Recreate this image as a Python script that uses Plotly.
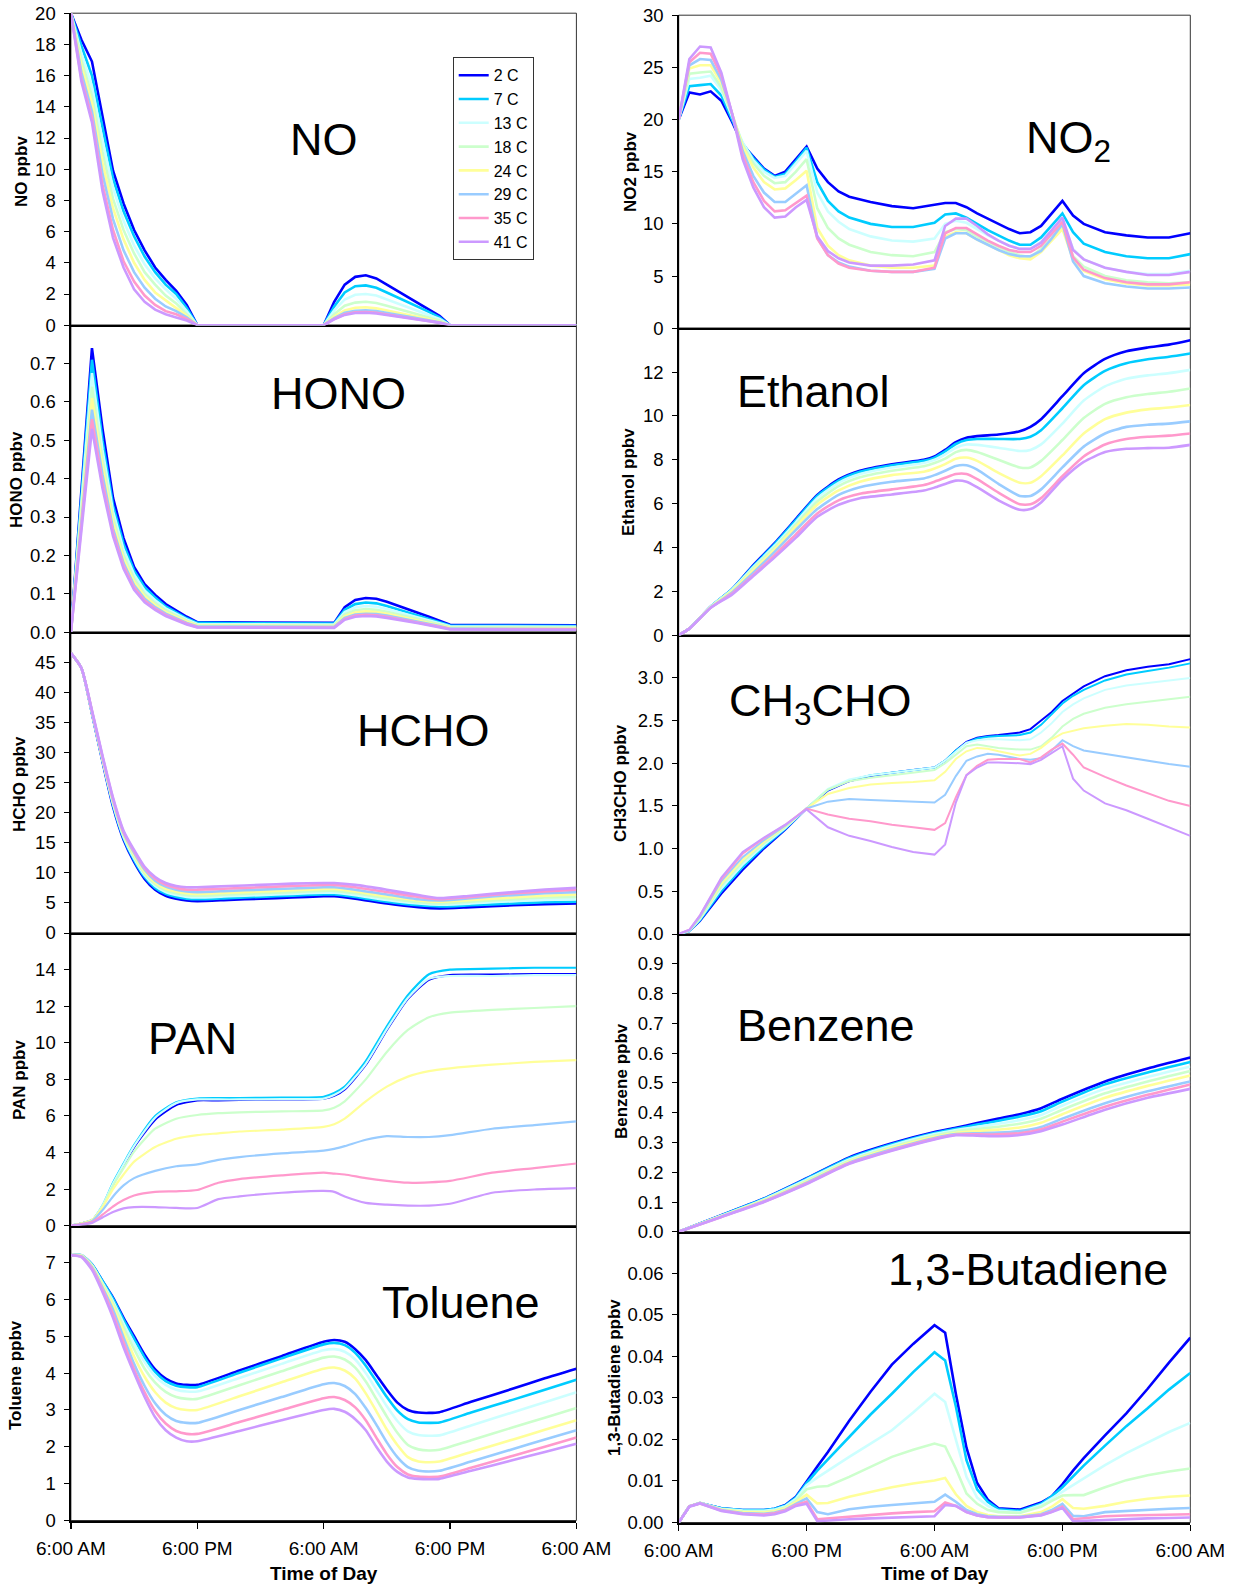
import plotly.graph_objects as go

# ---------------- common ----------------
LABELS = ["2 C", "7 C", "13 C", "18 C", "24 C", "29 C", "35 C", "41 C"]
COLORS = ["#0000FF", "#00CCFF", "#CCFFFF", "#CCFFCC", "#FFFF99", "#99CCFF", "#FF99CC", "#CC99FF"]
TIME_TICKS = [0, 12, 24, 36, 48]
TIME_TEXT = ["6:00 AM", "6:00 PM", "6:00 AM", "6:00 PM", "6:00 AM"]

# ---------------- NO ----------------
T_NO = [0, 1, 2, 3, 4, 5, 6, 7, 8, 9, 10, 11, 12, 24, 25, 26, 27, 28, 29, 30, 31, 32, 33, 34, 35, 36, 48]
NO_SERIES = [
    [20, 18.3, 16.9, 13.3, 9.9, 7.8, 6.1, 4.8, 3.7, 2.9, 2.2, 1.3, 0, 0, 1.5, 2.6, 3.1, 3.2, 3.0, 2.6, 2.2, 1.8, 1.4, 1.05, 0.6, 0, 0],
    [20, 17.9, 16.0, 12.6, 9.4, 7.3, 5.7, 4.4, 3.4, 2.6, 2.0, 1.1, 0, 0, 1.2, 2.1, 2.5, 2.55, 2.4, 2.1, 1.8, 1.45, 1.15, 0.85, 0.5, 0, 0],
    [20, 17.4, 15.3, 11.8, 8.8, 6.7, 5.1, 3.9, 3.0, 2.3, 1.7, 0.9, 0, 0, 0.95, 1.65, 1.95, 2.0, 1.9, 1.65, 1.4, 1.15, 0.9, 0.65, 0.4, 0, 0],
    [20, 17.0, 14.7, 11.1, 8.1, 6.1, 4.6, 3.4, 2.6, 1.9, 1.4, 0.7, 0, 0, 0.7, 1.25, 1.45, 1.5, 1.42, 1.25, 1.05, 0.85, 0.68, 0.5, 0.3, 0, 0],
    [20, 16.6, 14.2, 10.4, 7.5, 5.5, 4.0, 2.9, 2.1, 1.6, 1.1, 0.6, 0, 0, 0.55, 0.95, 1.12, 1.15, 1.08, 0.95, 0.8, 0.65, 0.52, 0.38, 0.22, 0, 0],
    [20, 16.2, 13.7, 9.7, 6.8, 4.8, 3.4, 2.4, 1.7, 1.2, 0.9, 0.5, 0, 0, 0.45, 0.8, 0.93, 0.95, 0.9, 0.8, 0.67, 0.55, 0.43, 0.32, 0.18, 0, 0],
    [20, 15.8, 13.3, 9.0, 6.1, 4.1, 2.8, 1.9, 1.3, 0.9, 0.7, 0.4, 0, 0, 0.4, 0.7, 0.83, 0.85, 0.8, 0.7, 0.6, 0.48, 0.38, 0.28, 0.16, 0, 0],
    [20, 15.6, 13.0, 8.6, 5.6, 3.7, 2.3, 1.5, 1.0, 0.7, 0.5, 0.3, 0, 0, 0.38, 0.66, 0.78, 0.8, 0.75, 0.66, 0.56, 0.45, 0.36, 0.26, 0.15, 0, 0],
]

# ---------------- HONO ----------------
T_HONO = [0, 2, 3, 4, 5, 6, 7, 8, 9, 10, 11, 12, 25, 26, 27, 28, 29, 30, 31, 32, 33, 34, 35, 36, 48]
HONO_SERIES = [
    [0.0, 0.74, 0.53, 0.35, 0.245, 0.17, 0.125, 0.097, 0.073, 0.056, 0.04, 0.026, 0.024, 0.065, 0.084, 0.089, 0.087, 0.079, 0.07, 0.06, 0.05, 0.04, 0.03, 0.019, 0.018],
    [0.0, 0.71, 0.50, 0.33, 0.23, 0.16, 0.117, 0.09, 0.067, 0.051, 0.036, 0.024, 0.022, 0.058, 0.073, 0.077, 0.075, 0.068, 0.06, 0.052, 0.043, 0.035, 0.026, 0.017, 0.016],
    [0.0, 0.675, 0.475, 0.315, 0.215, 0.15, 0.108, 0.083, 0.062, 0.047, 0.033, 0.021, 0.02, 0.052, 0.064, 0.068, 0.066, 0.06, 0.053, 0.046, 0.038, 0.031, 0.023, 0.015, 0.014],
    [0.0, 0.64, 0.45, 0.30, 0.20, 0.14, 0.1, 0.076, 0.057, 0.043, 0.03, 0.019, 0.018, 0.046, 0.057, 0.06, 0.058, 0.053, 0.047, 0.04, 0.034, 0.027, 0.02, 0.013, 0.012],
    [0.0, 0.61, 0.43, 0.285, 0.19, 0.13, 0.093, 0.07, 0.052, 0.039, 0.027, 0.017, 0.016, 0.041, 0.051, 0.054, 0.052, 0.048, 0.042, 0.036, 0.03, 0.024, 0.018, 0.011, 0.01],
    [0.0, 0.58, 0.41, 0.27, 0.18, 0.122, 0.087, 0.065, 0.048, 0.036, 0.024, 0.015, 0.014, 0.037, 0.046, 0.048, 0.047, 0.043, 0.038, 0.032, 0.027, 0.021, 0.016, 0.009, 0.008],
    [0.0, 0.555, 0.39, 0.26, 0.172, 0.116, 0.082, 0.061, 0.045, 0.033, 0.022, 0.013, 0.012, 0.034, 0.043, 0.045, 0.044, 0.04, 0.035, 0.03, 0.025, 0.02, 0.014, 0.008, 0.007],
    [0.0, 0.53, 0.375, 0.25, 0.165, 0.11, 0.078, 0.058, 0.042, 0.031, 0.02, 0.012, 0.011, 0.032, 0.04, 0.042, 0.041, 0.037, 0.033, 0.028, 0.023, 0.018, 0.013, 0.007, 0.006],
]

# ---------------- HCHO ----------------
T_HCHO = [0, 1, 2, 3, 4, 5, 6, 7, 8, 9, 10, 11, 12, 15, 18, 21, 24, 25, 27, 30, 33, 35, 38, 42, 45, 48]
HCHO_SERIES = [
    [46.5, 44, 36.5, 28.5, 21.0, 15.5, 11.8, 9.0, 7.2, 6.2, 5.7, 5.4, 5.3, 5.5, 5.7, 5.9, 6.1, 6.1, 5.7, 4.9, 4.3, 4.1, 4.3, 4.6, 4.8, 4.9],
    [46.5, 44, 36.6, 28.7, 21.3, 15.8, 12.1, 9.3, 7.5, 6.5, 6.0, 5.7, 5.6, 5.8, 6.0, 6.2, 6.4, 6.4, 6.0, 5.2, 4.6, 4.4, 4.6, 4.9, 5.1, 5.2],
    [46.5, 44, 36.7, 28.8, 21.5, 16.0, 12.4, 9.6, 7.8, 6.8, 6.3, 6.0, 5.9, 6.1, 6.3, 6.5, 6.7, 6.7, 6.3, 5.5, 4.9, 4.7, 4.9, 5.3, 5.5, 5.6],
    [46.5, 44, 36.7, 28.9, 21.7, 16.2, 12.7, 9.9, 8.1, 7.1, 6.6, 6.3, 6.2, 6.4, 6.6, 6.8, 7.0, 7.0, 6.6, 5.8, 5.1, 4.9, 5.2, 5.6, 5.9, 6.0],
    [46.5, 44, 36.8, 29.0, 21.9, 16.4, 13.0, 10.2, 8.4, 7.4, 6.9, 6.6, 6.5, 6.7, 6.9, 7.1, 7.3, 7.3, 6.9, 6.1, 5.4, 5.2, 5.5, 5.9, 6.2, 6.4],
    [46.5, 44, 36.8, 29.2, 22.1, 16.6, 13.3, 10.5, 8.7, 7.7, 7.2, 6.9, 6.8, 7.0, 7.2, 7.4, 7.6, 7.6, 7.2, 6.4, 5.6, 5.4, 5.8, 6.3, 6.6, 6.8],
    [46.5, 44, 36.9, 29.3, 22.3, 16.8, 13.6, 10.8, 9.0, 8.0, 7.5, 7.2, 7.2, 7.4, 7.6, 7.8, 8.0, 8.0, 7.6, 6.8, 6.0, 5.6, 6.0, 6.6, 6.9, 7.2],
    [46.5, 44, 37.0, 29.5, 22.5, 17.0, 13.8, 11.0, 9.3, 8.3, 7.8, 7.6, 7.6, 7.8, 8.0, 8.2, 8.3, 8.3, 8.0, 7.2, 6.3, 5.8, 6.2, 6.8, 7.2, 7.5],
]

# ---------------- PAN ----------------
T_PAN = [0, 2, 3, 4, 5, 6, 8, 10, 12, 14, 16, 20, 24, 25, 26, 28, 30, 32, 34, 36, 40, 44, 48]
PAN_SERIES = [
    [0, 0.3, 1.05, 2.25, 3.3, 4.3, 5.8, 6.6, 6.85, 6.85, 6.88, 6.9, 6.95, 7.1, 7.45, 8.8, 10.7, 12.4, 13.45, 13.7, 13.72, 13.75, 13.75],
    [0, 0.3, 1.1, 2.35, 3.4, 4.4, 6.0, 6.75, 6.95, 6.97, 6.98, 7.0, 7.05, 7.25, 7.6, 9.0, 10.9, 12.6, 13.75, 14.0, 14.05, 14.1, 14.1],
    [0, 0.3, 1.1, 2.3, 3.35, 4.35, 5.9, 6.7, 6.9, 6.9, 6.9, 6.92, 6.95, 7.15, 7.5, 8.85, 10.75, 12.45, 13.5, 13.65, 13.65, 13.7, 13.7],
    [0, 0.3, 1.05, 2.2, 3.15, 4.05, 5.3, 5.85, 6.05, 6.15, 6.2, 6.25, 6.3, 6.45, 6.8, 8.0, 9.5, 10.7, 11.4, 11.65, 11.8, 11.9, 12.0],
    [0, 0.3, 1.0, 2.0, 2.8, 3.5, 4.3, 4.75, 4.95, 5.05, 5.15, 5.25, 5.4, 5.55, 5.85, 6.8, 7.6, 8.15, 8.45, 8.6, 8.8, 8.95, 9.05],
    [0, 0.25, 0.85, 1.6, 2.2, 2.6, 3.0, 3.25, 3.35, 3.6, 3.75, 3.95, 4.1, 4.2, 4.35, 4.7, 4.9, 4.85, 4.85, 4.95, 5.3, 5.5, 5.7],
    [0, 0.2, 0.6, 1.05, 1.4, 1.65, 1.85, 1.88, 1.95, 2.35, 2.55, 2.75, 2.9, 2.85, 2.8, 2.6, 2.45, 2.35, 2.37, 2.45, 2.9, 3.15, 3.4],
    [0, 0.15, 0.45, 0.75, 0.95, 1.02, 1.02, 0.97, 0.97, 1.45, 1.6, 1.8, 1.9, 1.85, 1.6, 1.25, 1.15, 1.1, 1.1, 1.2, 1.8, 1.98, 2.05],
]

# ---------------- Toluene ----------------
T_TOL = [0, 1, 2, 3, 4, 5, 6, 7, 8, 9, 10, 11, 12, 16, 20, 24, 25, 26, 27, 28, 29, 30, 31, 32, 33, 34, 35, 38, 42, 45, 48]
TOL_SERIES = [
    [7.2, 7.2, 6.95, 6.5, 6.05, 5.5, 5.0, 4.5, 4.1, 3.85, 3.72, 3.68, 3.68, 4.07, 4.46, 4.85, 4.9, 4.85, 4.65, 4.35, 3.95, 3.55, 3.2, 3.0, 2.93, 2.92, 2.94, 3.22, 3.58, 3.86, 4.12],
    [7.2, 7.2, 6.95, 6.5, 6.02, 5.45, 4.93, 4.42, 4.03, 3.78, 3.66, 3.62, 3.62, 4.01, 4.4, 4.78, 4.82, 4.76, 4.55, 4.2, 3.78, 3.35, 2.98, 2.75, 2.66, 2.65, 2.66, 2.93, 3.28, 3.55, 3.82],
    [7.2, 7.2, 6.93, 6.45, 5.95, 5.35, 4.8, 4.3, 3.92, 3.68, 3.55, 3.5, 3.5, 3.87, 4.25, 4.62, 4.65, 4.58, 4.37, 4.0, 3.55, 3.1, 2.7, 2.42, 2.32, 2.3, 2.31, 2.58, 2.94, 3.21, 3.48],
    [7.2, 7.2, 6.92, 6.42, 5.9, 5.25, 4.65, 4.12, 3.74, 3.49, 3.35, 3.3, 3.3, 3.67, 4.05, 4.42, 4.45, 4.37, 4.15, 3.77, 3.3, 2.82, 2.38, 2.05, 1.93, 1.9, 1.92, 2.18, 2.53, 2.79, 3.05],
    [7.2, 7.18, 6.9, 6.38, 5.82, 5.12, 4.45, 3.9, 3.48, 3.2, 3.05, 3.0, 3.0, 3.37, 3.75, 4.12, 4.15, 4.07, 3.85, 3.45, 2.97, 2.47, 2.05, 1.72, 1.6, 1.58, 1.6, 1.86, 2.2, 2.46, 2.72],
    [7.2, 7.17, 6.87, 6.32, 5.72, 4.97, 4.25, 3.65, 3.18, 2.87, 2.7, 2.65, 2.65, 3.0, 3.35, 3.7, 3.73, 3.65, 3.43, 3.05, 2.6, 2.12, 1.72, 1.45, 1.35, 1.33, 1.35, 1.6, 1.94, 2.2, 2.45],
    [7.2, 7.16, 6.84, 6.26, 5.6, 4.83, 4.1, 3.48, 2.97, 2.63, 2.43, 2.35, 2.35, 2.67, 3.0, 3.32, 3.35, 3.27, 3.07, 2.72, 2.25, 1.8, 1.45, 1.25, 1.19, 1.18, 1.19, 1.43, 1.76, 2.0, 2.25],
    [7.2, 7.15, 6.8, 6.2, 5.5, 4.7, 4.0, 3.35, 2.8, 2.45, 2.25, 2.15, 2.15, 2.43, 2.72, 3.0, 3.03, 2.95, 2.75, 2.45, 2.0, 1.6, 1.32, 1.17, 1.13, 1.12, 1.13, 1.35, 1.64, 1.86, 2.08],
]

# ---------------- NO2 ----------------
T_NO2 = [0, 1, 2, 3, 4, 5, 6, 7, 8, 9, 10, 11, 12, 13, 14, 15, 16, 18, 20, 22, 24, 25, 26, 27, 28, 29, 30, 31, 32, 33, 34, 35, 36, 37, 38, 40, 42, 44, 46, 48]
NO2_SERIES = [
    [20, 22.6, 22.4, 22.7, 21.8, 19.8, 17.6, 16.4, 15.3, 14.6, 15.0, 16.2, 17.4, 15.3, 14.0, 13.1, 12.6, 12.1, 11.7, 11.5, 11.8, 12.0, 12.0, 11.6, 11.0, 10.5, 10.0, 9.5, 9.1, 9.2, 9.8, 11.0, 12.2, 10.8, 10.0, 9.2, 8.9, 8.7, 8.7, 9.1],
    [20, 23.2, 23.3, 23.4, 22.3, 20.0, 17.7, 16.3, 15.2, 14.5, 14.8, 16.0, 17.3, 14.0, 12.2, 11.2, 10.6, 10.0, 9.7, 9.7, 10.1, 10.9, 11.0, 10.6, 10.0, 9.4, 8.9, 8.4, 8.0, 8.0, 8.7, 9.8, 11.0, 9.2, 8.1, 7.3, 6.9, 6.7, 6.7, 7.1],
    [20, 23.9, 24.0, 24.2, 22.8, 20.3, 17.8, 16.1, 15.0, 14.4, 14.6, 15.8, 17.0, 13.0, 11.2, 10.2, 9.5, 8.8, 8.4, 8.3, 8.6, 10.0, 10.3, 10.1, 9.5, 8.9, 8.4, 7.9, 7.6, 7.6, 8.3, 9.3, 10.4, 7.6, 6.6, 5.8, 5.4, 5.2, 5.2, 5.5],
    [20, 24.4, 24.5, 24.6, 23.1, 20.5, 17.6, 15.8, 14.6, 13.9, 14.0, 15.0, 16.2, 11.5, 9.6, 8.6, 8.0, 7.3, 7.0, 6.9, 7.3, 9.2, 9.5, 9.4, 8.8, 8.3, 7.8, 7.3, 7.0, 6.8, 7.6, 8.6, 9.7, 6.9, 5.9, 5.0, 4.6, 4.4, 4.3, 4.4],
    [20, 24.9, 25.2, 25.2, 23.5, 20.6, 17.4, 15.4, 14.0, 13.3, 13.4, 14.2, 15.1, 9.6, 7.9, 7.0, 6.5, 6.0, 5.8, 5.8, 6.0, 8.8, 9.2, 9.1, 8.5, 8.0, 7.5, 7.0, 6.7, 6.6, 7.3, 8.4, 9.5, 6.6, 5.5, 4.7, 4.3, 4.1, 4.1, 4.2],
    [20, 25.2, 25.8, 25.7, 23.8, 20.6, 17.0, 14.6, 13.0, 12.1, 12.1, 12.9, 13.7, 8.7, 7.0, 6.3, 5.9, 5.5, 5.4, 5.4, 5.7, 8.6, 9.1, 9.1, 8.5, 8.0, 7.5, 7.1, 6.9, 6.9, 7.4, 8.6, 10.0, 6.4, 5.0, 4.3, 4.0, 3.8, 3.8, 3.9],
    [20, 25.5, 26.4, 26.3, 24.2, 20.6, 16.6, 14.0, 12.2, 11.2, 11.3, 12.0, 12.7, 8.6, 7.0, 6.2, 5.8, 5.5, 5.4, 5.4, 5.8, 9.1, 9.6, 9.6, 9.0, 8.4, 7.9, 7.5, 7.3, 7.3, 7.9, 9.0, 10.2, 6.8, 5.6, 4.8, 4.4, 4.2, 4.2, 4.4],
    [20, 25.8, 27.0, 26.9, 24.5, 20.6, 16.2, 13.5, 11.6, 10.6, 10.7, 11.6, 12.3, 8.8, 7.4, 6.7, 6.3, 6.0, 6.0, 6.1, 6.5, 9.8, 10.5, 10.5, 9.8, 9.0, 8.4, 7.9, 7.6, 7.6, 8.2, 9.4, 10.6, 7.5, 6.6, 5.8, 5.4, 5.1, 5.1, 5.4],
]

# ---------------- Ethanol ----------------
T_ETH = [0, 1, 3, 5, 7, 9, 11, 13, 15, 17, 20, 23, 24, 25, 26, 27, 28, 30, 32, 33, 34, 36, 38, 40, 42, 44, 46, 48]
ETH_SERIES = [
    [0, 0.3, 1.3, 2.1, 3.2, 4.2, 5.3, 6.4, 7.1, 7.5, 7.8, 8.0, 8.15, 8.45, 8.8, 9.0, 9.08, 9.15, 9.3, 9.5, 9.85, 10.9, 11.95, 12.6, 12.95, 13.12, 13.25, 13.45],
    [0, 0.3, 1.3, 2.1, 3.15, 4.15, 5.25, 6.35, 7.05, 7.45, 7.75, 7.95, 8.1, 8.38, 8.72, 8.9, 8.95, 8.95, 8.95, 9.05, 9.35, 10.35, 11.4, 12.05, 12.4, 12.58, 12.7, 12.85],
    [0, 0.3, 1.3, 2.08, 3.1, 4.08, 5.15, 6.25, 6.95, 7.35, 7.65, 7.85, 8.0, 8.25, 8.55, 8.7, 8.68, 8.55, 8.4, 8.45, 8.7, 9.65, 10.7, 11.35, 11.7, 11.85, 11.95, 12.1],
    [0, 0.3, 1.28, 2.05, 3.05, 4.0, 5.05, 6.1, 6.8, 7.2, 7.5, 7.7, 7.85, 8.05, 8.35, 8.45, 8.35, 8.0, 7.65, 7.65, 7.95, 8.9, 9.9, 10.55, 10.85, 11.0, 11.1, 11.25],
    [0, 0.3, 1.27, 2.0, 2.95, 3.9, 4.95, 5.95, 6.6, 7.0, 7.3, 7.45, 7.6, 7.8, 8.05, 8.1, 7.95, 7.4, 6.95, 6.95, 7.25, 8.2, 9.2, 9.85, 10.15, 10.3, 10.38, 10.5],
    [0, 0.3, 1.25, 1.95, 2.85, 3.8, 4.8, 5.75, 6.4, 6.75, 7.0, 7.15, 7.3, 7.5, 7.72, 7.75, 7.55, 6.9, 6.35, 6.35, 6.65, 7.65, 8.6, 9.2, 9.5, 9.6, 9.65, 9.75],
    [0, 0.3, 1.25, 1.9, 2.75, 3.65, 4.6, 5.55, 6.15, 6.45, 6.65, 6.85, 7.0, 7.18, 7.35, 7.35, 7.12, 6.5, 5.97, 5.97, 6.25, 7.25, 8.15, 8.7, 8.95, 9.05, 9.1, 9.2],
    [0, 0.3, 1.25, 1.85, 2.7, 3.55, 4.45, 5.4, 5.95, 6.25, 6.42, 6.6, 6.73, 6.9, 7.05, 7.0, 6.75, 6.15, 5.72, 5.75, 6.05, 7.1, 7.9, 8.35, 8.5, 8.53, 8.55, 8.68],
]

# ---------------- CH3CHO ----------------
T_ACE = [0, 1, 2, 4, 6, 8, 10, 12, 14, 16, 18, 20, 22, 24, 25, 26, 27, 28, 29, 30, 32, 33, 34, 35, 36, 37, 38, 40, 42, 44, 46, 48]
ACE_SERIES = [
    [0, 0.03, 0.15, 0.47, 0.75, 1.0, 1.22, 1.47, 1.68, 1.79, 1.85, 1.89, 1.92, 1.95, 2.03, 2.15, 2.25, 2.3, 2.32, 2.33, 2.36, 2.4, 2.5, 2.6, 2.73, 2.82, 2.9, 3.02, 3.09, 3.13, 3.16, 3.22],
    [0, 0.03, 0.16, 0.5, 0.78, 1.02, 1.23, 1.47, 1.69, 1.8, 1.86, 1.89, 1.92, 1.95, 2.03, 2.15, 2.24, 2.29, 2.31, 2.32, 2.33, 2.36, 2.45, 2.57, 2.7, 2.79, 2.86, 2.97, 3.04, 3.08, 3.12, 3.17],
    [0, 0.03, 0.17, 0.53, 0.81, 1.04, 1.24, 1.47, 1.7, 1.81, 1.86, 1.89, 1.92, 1.95, 2.03, 2.14, 2.24, 2.27, 2.28, 2.28, 2.27, 2.28, 2.36, 2.47, 2.6, 2.69, 2.76, 2.86, 2.91, 2.94, 2.97, 3.0],
    [0, 0.04, 0.18, 0.56, 0.84, 1.06, 1.25, 1.47, 1.69, 1.79, 1.83, 1.86, 1.89, 1.92, 2.0, 2.1, 2.2, 2.22, 2.2, 2.18, 2.16, 2.16, 2.2, 2.3, 2.43, 2.52, 2.58, 2.65, 2.69, 2.72, 2.75, 2.78],
    [0, 0.04, 0.19, 0.59, 0.87, 1.08, 1.26, 1.47, 1.64, 1.71, 1.75, 1.77, 1.78, 1.8, 1.9, 2.05, 2.14, 2.18, 2.17, 2.14, 2.09, 2.11, 2.18, 2.28, 2.35, 2.38, 2.41, 2.44, 2.46, 2.45, 2.43, 2.42],
    [0, 0.04, 0.2, 0.62, 0.9, 1.1, 1.27, 1.47, 1.55, 1.58, 1.57, 1.56, 1.55, 1.54, 1.63, 1.85, 2.03, 2.08, 2.11, 2.1, 2.05, 2.04, 2.06, 2.15, 2.27, 2.2, 2.15, 2.11, 2.07, 2.03, 1.99, 1.96],
    [0, 0.05, 0.22, 0.64, 0.94, 1.12, 1.28, 1.47, 1.4, 1.35, 1.32, 1.28, 1.25, 1.22, 1.3, 1.6, 1.86, 1.97, 2.04, 2.05, 2.05, 2.01, 2.07, 2.16, 2.23, 2.1, 1.95, 1.84, 1.74, 1.65, 1.56, 1.5],
    [0, 0.05, 0.22, 0.66, 0.96, 1.13, 1.28, 1.46, 1.25, 1.15, 1.09, 1.02, 0.96, 0.93, 1.05, 1.54, 1.86, 1.95, 2.01, 2.01, 2.0, 1.99, 2.04, 2.12, 2.2, 1.82, 1.68, 1.53, 1.45, 1.35, 1.25, 1.15],
]

# ---------------- Benzene ----------------
T_BEN = [0, 4, 8, 12, 16, 20, 24, 26, 28, 30, 32, 34, 36, 40, 44, 48]
BEN_SERIES = [
    [0, 0.056, 0.112, 0.18, 0.25, 0.297, 0.335, 0.349, 0.365, 0.38, 0.395, 0.415, 0.447, 0.505, 0.548, 0.585],
    [0, 0.055, 0.111, 0.178, 0.247, 0.294, 0.332, 0.346, 0.36, 0.373, 0.387, 0.405, 0.437, 0.495, 0.535, 0.57],
    [0, 0.054, 0.109, 0.175, 0.243, 0.29, 0.328, 0.342, 0.353, 0.363, 0.375, 0.392, 0.424, 0.48, 0.52, 0.555],
    [0, 0.053, 0.107, 0.171, 0.239, 0.285, 0.323, 0.337, 0.345, 0.353, 0.363, 0.38, 0.41, 0.465, 0.505, 0.54],
    [0, 0.052, 0.105, 0.168, 0.235, 0.281, 0.319, 0.332, 0.338, 0.343, 0.35, 0.366, 0.395, 0.45, 0.49, 0.525],
    [0, 0.051, 0.103, 0.165, 0.232, 0.277, 0.315, 0.328, 0.331, 0.333, 0.338, 0.352, 0.38, 0.432, 0.472, 0.505],
    [0, 0.05, 0.101, 0.162, 0.23, 0.274, 0.312, 0.326, 0.327, 0.327, 0.331, 0.344, 0.37, 0.42, 0.46, 0.495],
    [0, 0.05, 0.1, 0.16, 0.228, 0.272, 0.31, 0.324, 0.323, 0.321, 0.325, 0.338, 0.36, 0.41, 0.45, 0.48],
]

# ---------------- 1,3-Butadiene ----------------
T_BUT = [0, 1, 2, 3, 4, 6, 8, 9, 10, 11, 12, 13, 14, 16, 18, 20, 22, 24, 25, 26, 27, 28, 29, 30, 32, 34, 35, 36, 37, 38, 40, 42, 44, 46, 48]
BUT_SERIES = [
    [0, 0.0039, 0.0047, 0.0040, 0.0034, 0.0030, 0.0030, 0.0033, 0.0042, 0.0062, 0.0100, 0.0135, 0.0170, 0.0245, 0.0315, 0.0380, 0.0430, 0.0475, 0.0457, 0.0310, 0.0180, 0.0095, 0.0055, 0.0034, 0.0031, 0.0048, 0.0063, 0.0092, 0.0125, 0.0155, 0.0210, 0.0263, 0.0322, 0.0385, 0.0445],
    [0, 0.0039, 0.0047, 0.0040, 0.0034, 0.0030, 0.0030, 0.0033, 0.0041, 0.0060, 0.0095, 0.0125, 0.0152, 0.0205, 0.0260, 0.0310, 0.0362, 0.0410, 0.0390, 0.0280, 0.0150, 0.0080, 0.0050, 0.0032, 0.0028, 0.0045, 0.0063, 0.0085, 0.0112, 0.0137, 0.0185, 0.0232, 0.0275, 0.0320, 0.0360],
    [0, 0.0039, 0.0047, 0.0040, 0.0033, 0.0029, 0.0028, 0.0031, 0.0039, 0.0057, 0.0090, 0.0108, 0.0125, 0.0158, 0.0190, 0.0222, 0.0265, 0.0310, 0.0290, 0.0200, 0.0110, 0.0060, 0.0040, 0.0028, 0.0025, 0.0042, 0.0058, 0.0075, 0.0092, 0.0108, 0.0138, 0.0167, 0.0193, 0.0218, 0.0240],
    [0, 0.0039, 0.0047, 0.0040, 0.0032, 0.0027, 0.0026, 0.0029, 0.0036, 0.0053, 0.0080, 0.0086, 0.0088, 0.0110, 0.0135, 0.0158, 0.0175, 0.0190, 0.0183, 0.0130, 0.0070, 0.0045, 0.0030, 0.0025, 0.0023, 0.0038, 0.0052, 0.0065, 0.0066, 0.0066, 0.0085, 0.0102, 0.0114, 0.0123, 0.0130],
    [0, 0.0039, 0.0047, 0.0039, 0.0031, 0.0025, 0.0024, 0.0027, 0.0034, 0.0049, 0.0067, 0.0046, 0.0047, 0.0062, 0.0073, 0.0085, 0.0094, 0.0101, 0.0107, 0.0068, 0.0040, 0.0025, 0.0018, 0.0015, 0.0015, 0.0025, 0.0038, 0.0056, 0.0035, 0.0033, 0.0040, 0.0050, 0.0057, 0.0062, 0.0065],
    [0, 0.0039, 0.0047, 0.0039, 0.0030, 0.0023, 0.0021, 0.0024, 0.0031, 0.0045, 0.0058, 0.0025, 0.0020, 0.0032, 0.0038, 0.0042, 0.0046, 0.0050, 0.0067, 0.0050, 0.0030, 0.0020, 0.0015, 0.0014, 0.0014, 0.0020, 0.0030, 0.0045, 0.0016, 0.0015, 0.0025, 0.0028, 0.0030, 0.0033, 0.0035],
    [0, 0.0039, 0.0046, 0.0038, 0.0029, 0.0021, 0.0019, 0.0022, 0.0029, 0.0042, 0.0050, 0.0008, 0.0010, 0.0015, 0.0018, 0.0022, 0.0025, 0.0027, 0.0048, 0.0040, 0.0025, 0.0017, 0.0013, 0.0012, 0.0012, 0.0018, 0.0026, 0.0038, 0.0008, 0.0010, 0.0015, 0.0017, 0.0018, 0.0019, 0.0020],
    [0, 0.0038, 0.0046, 0.0037, 0.0028, 0.0020, 0.0017, 0.0020, 0.0027, 0.0040, 0.0045, 0.0003, 0.0005, 0.0008, 0.0010, 0.0012, 0.0014, 0.0015, 0.0042, 0.0040, 0.0025, 0.0017, 0.0013, 0.0012, 0.0012, 0.0017, 0.0025, 0.0035, 0.0003, 0.0004, 0.0007, 0.0009, 0.0010, 0.0011, 0.0012],
]

# ---------------- tick label lists ----------------
NO_TICKS = [0, 2, 4, 6, 8, 10, 12, 14, 16, 18, 20]
HONO_TICKS = [0.0, 0.1, 0.2, 0.3, 0.4, 0.5, 0.6, 0.7]
HCHO_TICKS = [0, 5, 10, 15, 20, 25, 30, 35, 40, 45]
PAN_TICKS = [0, 2, 4, 6, 8, 10, 12, 14]
TOL_TICKS = [0, 1, 2, 3, 4, 5, 6, 7]
NO2_TICKS = [0, 5, 10, 15, 20, 25, 30]
ETH_TICKS = [0, 2, 4, 6, 8, 10, 12]
ACE_TICKS = [0.0, 0.5, 1.0, 1.5, 2.0, 2.5, 3.0]
BEN_TICKS = [0.0, 0.1, 0.2, 0.3, 0.4, 0.5, 0.6, 0.7, 0.8, 0.9]
BUT_TICKS = [0.0, 0.01, 0.02, 0.03, 0.04, 0.05, 0.06]

# ---------------- geometry (page pixels) ----------------
W, H = 1241, 1589
FONT = "Liberation Sans, Arial, sans-serif"


def fx(X):
    return X / W


def fy(Y):
    return 1 - Y / H


LEFT = (70.9, 576.4)
RIGHT = (678.7, 1190.3)

panels = [
    dict(t=T_NO, s=NO_SERIES, col=LEFT, yt=13.2, yb=325.2, top=20, ticks=NO_TICKS, fmt="{:.0f}", shape="linear",
         title="NO ppbv", txy=(21, 172), label="NO", lxy=(324, 139), bottom=False, lw=2.6),
    dict(t=T_HONO, s=HONO_SERIES, col=LEFT, yt=325.2, yb=632.1, top=0.8, ticks=HONO_TICKS, fmt="{:.1f}", shape="linear",
         title="HONO ppbv", txy=(17, 480), label="HONO", lxy=(338, 393), bottom=False, lw=2.6),
    dict(t=T_HCHO, s=HCHO_SERIES, col=LEFT, yt=632.1, yb=933.0, top=50, ticks=HCHO_TICKS, fmt="{:.0f}", shape="spline",
         title="HCHO ppbv", txy=(19, 784), label="HCHO", lxy=(423.5, 731), bottom=False, lw=2.6),
    dict(t=T_PAN, s=PAN_SERIES, col=LEFT, yt=933.0, yb=1225.7, top=16, ticks=PAN_TICKS, fmt="{:.0f}", shape="spline",
         title="PAN ppbv", txy=(19, 1080), label="PAN", lxy=(192.5, 1038), bottom=False, lw=2.2),
    dict(t=T_TOL, s=TOL_SERIES, col=LEFT, yt=1225.7, yb=1520.5, top=8, ticks=TOL_TICKS, fmt="{:.0f}", shape="spline",
         title="Toluene ppbv", txy=(15, 1375), label="Toluene", lxy=(461, 1302), bottom=True, lw=2.6),
    dict(t=T_NO2, s=NO2_SERIES, col=RIGHT, yt=15.2, yb=328.2, top=30, ticks=NO2_TICKS, fmt="{:.0f}", shape="linear",
         title="NO2 ppbv", txy=(630, 172), label="NO<sub>2</sub>", lxy=(1068, 140), bottom=False, lw=2.6),
    dict(t=T_ETH, s=ETH_SERIES, col=RIGHT, yt=328.2, yb=635.2, top=14, ticks=ETH_TICKS, fmt="{:.0f}", shape="spline",
         title="Ethanol ppbv", txy=(628, 482), label="Ethanol", lxy=(813.5, 391), bottom=False, lw=2.6),
    dict(t=T_ACE, s=ACE_SERIES, col=RIGHT, yt=635.2, yb=934.0, top=3.5, ticks=ACE_TICKS, fmt="{:.1f}", shape="linear",
         title="CH3CHO ppbv", txy=(621, 783), label="CH<sub>3</sub>CHO", lxy=(820.5, 703), bottom=False, lw=2.0),
    dict(t=T_BEN, s=BEN_SERIES, col=RIGHT, yt=934.0, yb=1231.8, top=1.0, ticks=BEN_TICKS, fmt="{:.1f}", shape="spline",
         title="Benzene ppbv", txy=(621, 1081), label="Benzene", lxy=(825.5, 1025), bottom=False, lw=2.6),
    dict(t=T_BUT, s=BUT_SERIES, col=RIGHT, yt=1231.8, yb=1522.5, top=0.07, ticks=BUT_TICKS, fmt="{:.2f}", shape="linear",
         title="1,3-Butadiene ppbv", txy=(614, 1378), label="1,3-Butadiene", lxy=(1028, 1269), bottom=True, lw=2.6),
]

fig = go.Figure()
annotations = []
shapes = []
layout = {}

for i, p in enumerate(panels, start=1):
    xa = "x" if i == 1 else f"x{i}"
    ya = "y" if i == 1 else f"y{i}"
    xkey = "xaxis" if i == 1 else f"xaxis{i}"
    ykey = "yaxis" if i == 1 else f"yaxis{i}"
    for k, (lab, col) in enumerate(zip(LABELS, COLORS)):
        vals = p["s"][k]
        if len(vals) != len(p["t"]):
            raise ValueError(f"length mismatch panel {i} series {lab}: {len(vals)} vs {len(p['t'])}")
        line = dict(color=col, width=p["lw"], shape=p["shape"])
        if p["shape"] == "spline":
            line["smoothing"] = 0.6
        fig.add_trace(go.Scatter(
            x=p["t"], y=vals, mode="lines", name=lab, line=line,
            xaxis=xa, yaxis=ya, showlegend=(i == 1), hoverinfo="skip"))

    layout[xkey] = dict(
        domain=[fx(p["col"][0]), fx(p["col"][1])], range=[0, 48], anchor=ya,
        showline=True, linecolor="black", linewidth=2, showgrid=False, zeroline=False,
        tickvals=TIME_TICKS, ticktext=TIME_TEXT, fixedrange=True, automargin=False,
        showticklabels=p["bottom"], ticks="outside" if p["bottom"] else "",
        ticklen=6, tickwidth=1.5, tickcolor="black", ticklabeloverflow="allow",
        tickfont=dict(family=FONT, size=19, color="black"), ticklabelstandoff=4,
        layer="below traces")
    layout[ykey] = dict(
        domain=[fy(p["yb"]), fy(p["yt"])], range=[0, p["top"]], anchor=xa,
        showline=True, linecolor="black", linewidth=1.5, showgrid=False, zeroline=False,
        tickvals=p["ticks"], ticktext=[p["fmt"].format(v) for v in p["ticks"]],
        ticks="outside", ticklen=5, tickwidth=1, tickcolor="black", fixedrange=True, automargin=False,
        ticklabeloverflow="allow",
        tickfont=dict(family=FONT, size=18.5, color="black"), ticklabelstandoff=5)

    shapes.append(dict(type="rect", xref=f"{xa} domain", yref=f"{ya} domain", x0=0, x1=1, y0=0, y1=1,
                       line=dict(color="#333333", width=1), layer="below"))

    annotations.append(dict(
        text=f"<b>{p['title']}</b>", x=fx(p["txy"][0]), y=fy(p["txy"][1]), xref="paper", yref="paper",
        textangle=-90, showarrow=False, xanchor="center", yanchor="middle",
        font=dict(family=FONT, size=17, color="black")))
    annotations.append(dict(
        text=p["label"], x=fx(p["lxy"][0]), y=fy(p["lxy"][1]), xref="paper", yref="paper",
        showarrow=False, xanchor="center", yanchor="middle",
        font=dict(family=FONT, size=45, color="black")))

for xc in [(LEFT[0] + LEFT[1]) / 2, (RIGHT[0] + RIGHT[1]) / 2]:
    annotations.append(dict(
        text="<b>Time of Day</b>", x=fx(xc), y=fy(1573), xref="paper", yref="paper",
        showarrow=False, xanchor="center", yanchor="middle",
        font=dict(family=FONT, size=19, color="black")))

fig.update_layout(
    width=W, height=H, margin=dict(l=0, r=0, t=0, b=0, pad=0, autoexpand=False),
    paper_bgcolor="white", plot_bgcolor="white",
    font=dict(family=FONT, color="black"),
    showlegend=True,
    legend=dict(x=fx(452.7), y=fy(57.3), xanchor="left", yanchor="top",
                bordercolor="#333333", borderwidth=1, bgcolor="white",
                font=dict(family=FONT, size=16, color="black"),
                itemwidth=30, tracegroupgap=0, traceorder="normal"),
    annotations=annotations, shapes=shapes,
    **layout)

fig.write_html(
    "out.html",
    config={"displayModeBar": False, "staticPlot": True},
    post_script="document.body.style.margin='0';document.body.style.overflow='hidden';"
                "document.documentElement.style.overflow='hidden';")
